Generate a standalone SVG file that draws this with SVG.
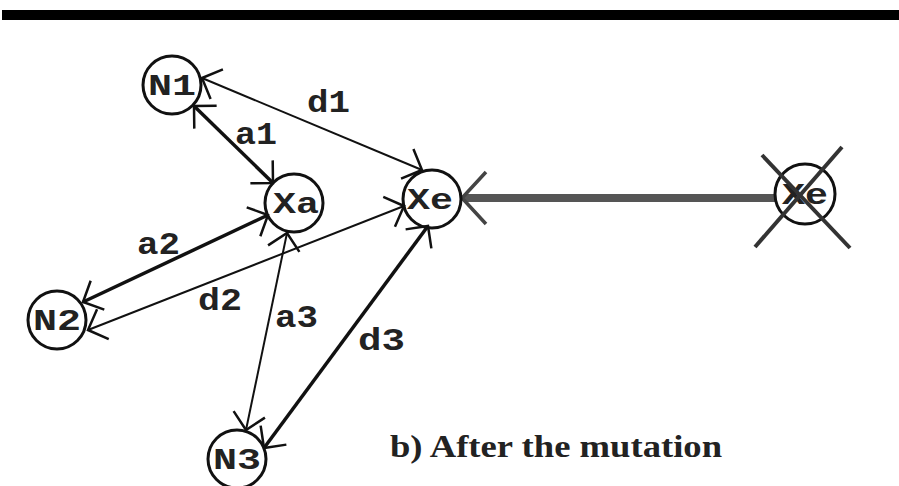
<svg xmlns="http://www.w3.org/2000/svg" width="899" height="486" viewBox="0 0 899 486">
<defs>
<style>
.node circle{fill:none;stroke:#111;stroke-width:3}
.node text{font-family:"Liberation Mono","DejaVu Sans Mono",monospace;font-size:30px;font-weight:bold;fill:#222;text-anchor:middle}
.lbl{font-family:"Liberation Mono","DejaVu Sans Mono",monospace;font-size:31px;font-weight:bold;fill:#222}
.e{fill:none;stroke:#111;marker-start:url(#ah);marker-end:url(#ah)}
.thin{stroke-width:2}
.thick{stroke-width:3.5}
</style>
<marker id="ah" markerUnits="userSpaceOnUse" viewBox="-20 -20 24 40" refX="0" refY="0" markerWidth="24" markerHeight="40" orient="auto-start-reverse" overflow="visible">
<path d="M -16 -16 L 0 0 L -16 16" fill="none" stroke="#111" stroke-width="2.5"/>
</marker>
</defs>
<rect x="2" y="10" width="897" height="10" fill="#000"/>
<g id="connectors">
<line class="e thick" x1="194" y1="106" x2="273" y2="183"/>
<line class="e thin" x1="202" y1="78" x2="422" y2="170"/>
<line class="e thick" x1="83" y1="302" x2="268" y2="215"/>
<line class="e thin" x1="88" y1="330" x2="404" y2="206"/>
<line class="e thin" x1="287" y1="233" x2="246" y2="430"/>
<line class="e thick" x1="428" y1="226" x2="264" y2="448"/>
<line x1="776" y1="198" x2="464" y2="198" stroke="#555" stroke-width="8"/>
<path d="M 486 172 L 462 198 L 486 224" fill="none" stroke="#444" stroke-width="3.5"/>
</g>
<g id="edge-labels">
<text class="lbl" x="307" y="112" textLength="43" lengthAdjust="spacingAndGlyphs">d1</text>
<text class="lbl" x="235" y="144" textLength="42" lengthAdjust="spacingAndGlyphs">a1</text>
<text class="lbl" x="137" y="254" textLength="43" lengthAdjust="spacingAndGlyphs">a2</text>
<text class="lbl" x="198" y="310" textLength="44" lengthAdjust="spacingAndGlyphs">d2</text>
<text class="lbl" x="275" y="327" textLength="43" lengthAdjust="spacingAndGlyphs">a3</text>
<text class="lbl" x="358" y="350" textLength="47" lengthAdjust="spacingAndGlyphs">d3</text>
</g>
<g id="N1" class="node"><circle cx="172" cy="85" r="29"/><text x="172" y="95" textLength="48" lengthAdjust="spacingAndGlyphs">N1</text></g>
<g id="Xa" class="node"><circle cx="294" cy="203" r="29"/><text x="296" y="213" textLength="46" lengthAdjust="spacingAndGlyphs">Xa</text></g>
<g id="Xe" class="node"><circle cx="432" cy="199" r="29"/><text x="430" y="209" textLength="46" lengthAdjust="spacingAndGlyphs">Xe</text></g>
<g id="N2" class="node"><circle cx="57" cy="320" r="29"/><text x="57" y="330" textLength="48" lengthAdjust="spacingAndGlyphs">N2</text></g>
<g id="N3" class="node"><circle cx="237" cy="459" r="29"/><text x="237" y="469" textLength="48" lengthAdjust="spacingAndGlyphs">N3</text></g>
<g id="Xe-removed" class="node"><circle cx="805" cy="194" r="30"/><text x="805" y="204" textLength="46" lengthAdjust="spacingAndGlyphs">Xe</text>
<line x1="762" y1="155" x2="850" y2="248" stroke="#333" stroke-width="4"/>
<line x1="842" y1="147" x2="755" y2="247" stroke="#333" stroke-width="4"/>
</g>
<text x="390" y="457" font-family="Liberation Serif,serif" font-weight="bold" font-size="32" fill="#222" textLength="332" lengthAdjust="spacingAndGlyphs">b) After the mutation</text>
</svg>
